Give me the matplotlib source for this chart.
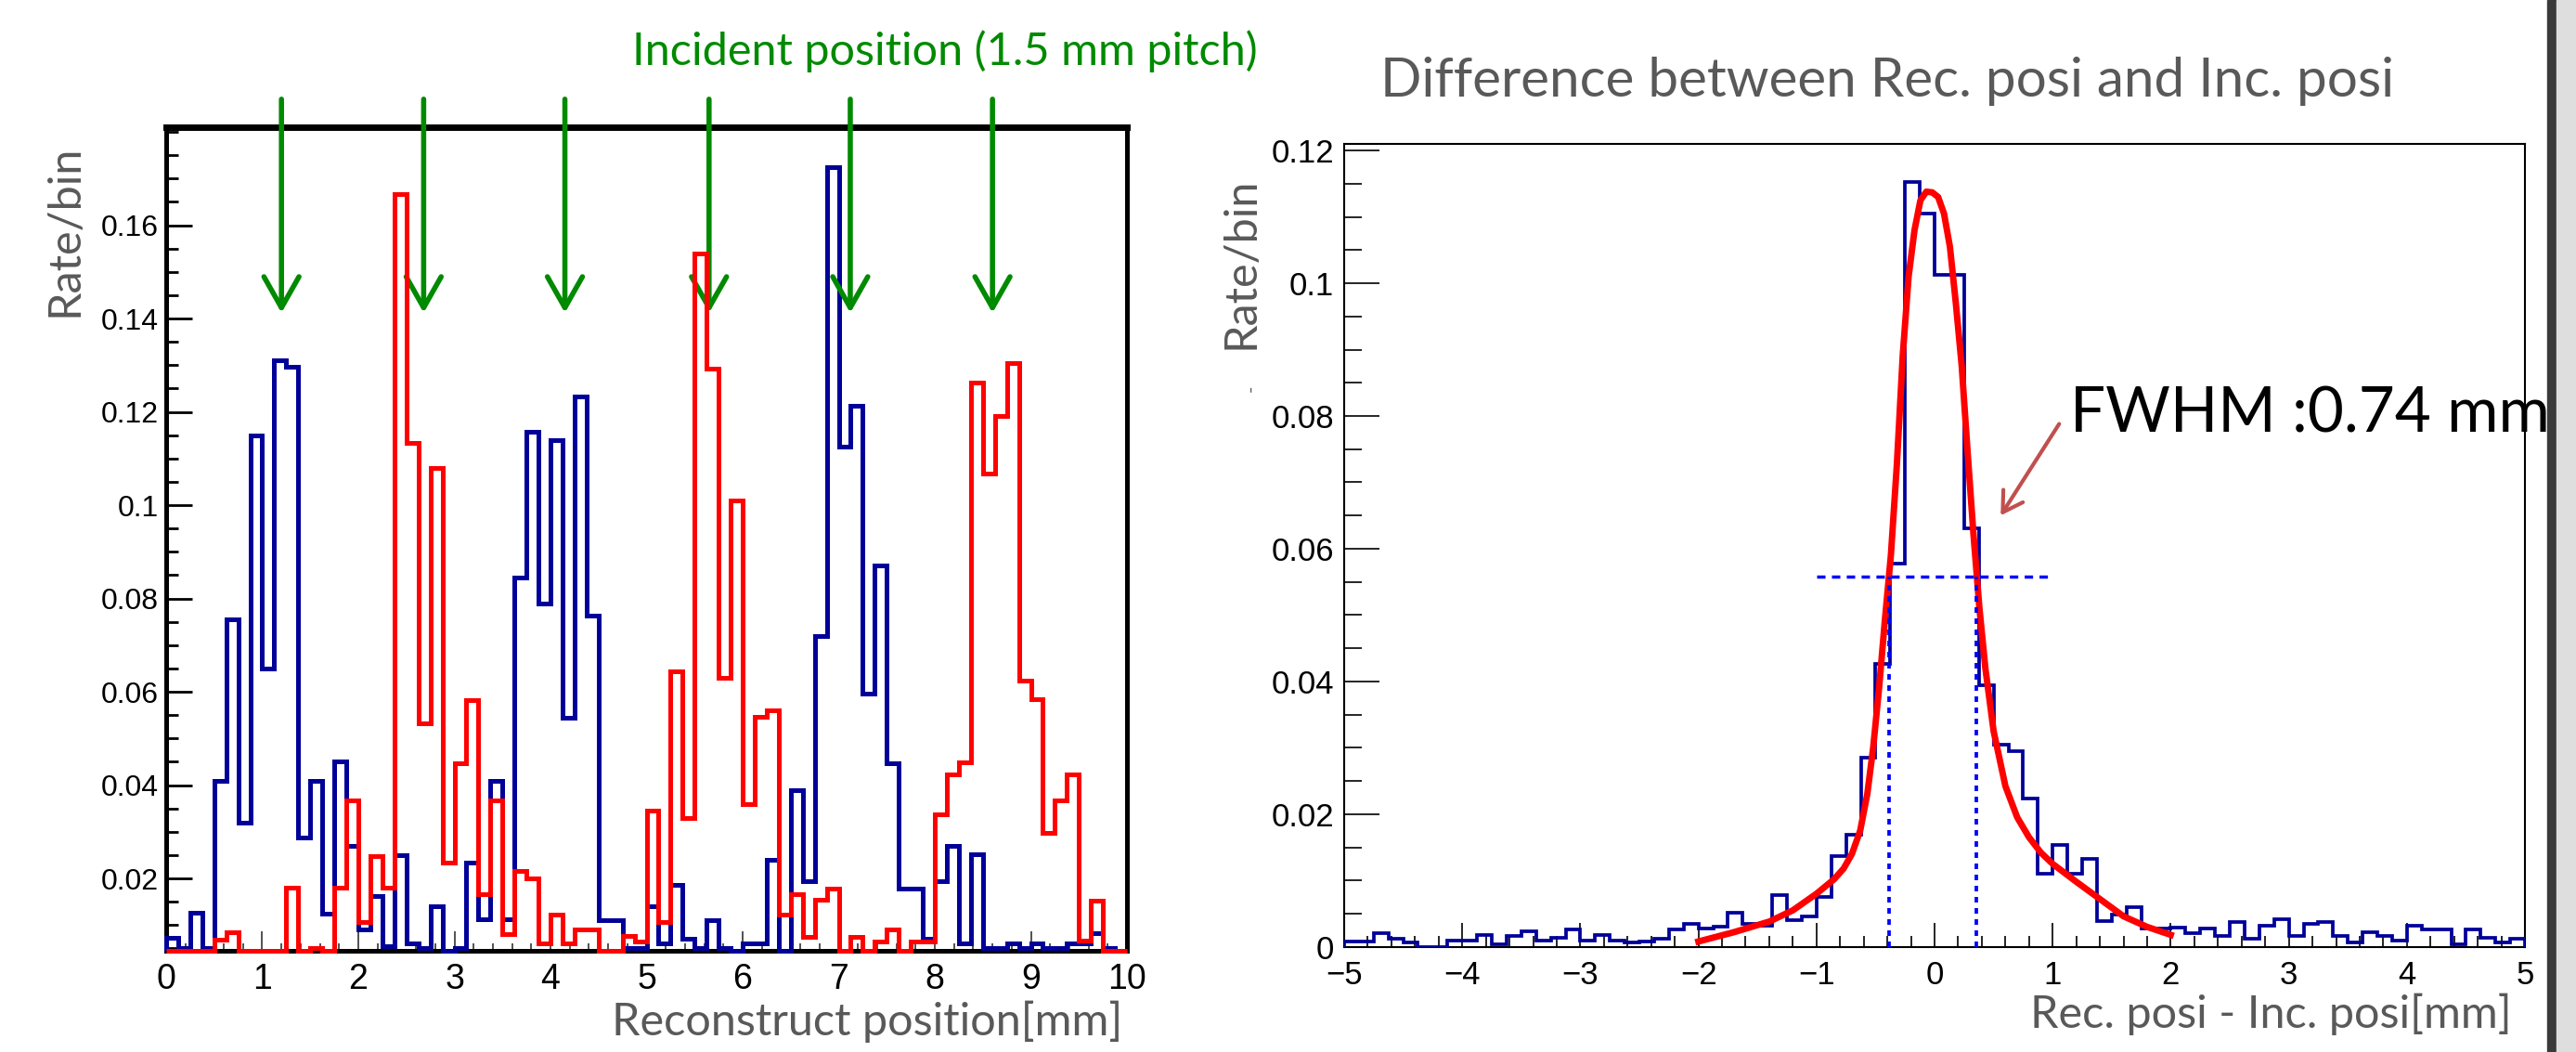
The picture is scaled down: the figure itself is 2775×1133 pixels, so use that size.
import numpy as np
import matplotlib
matplotlib.use("Agg")
import matplotlib.pyplot as plt
from matplotlib.patches import Rectangle
from matplotlib.ticker import MultipleLocator, FuncFormatter

# ---- left panel: reconstructed position, 80 bins of 0.125 mm ----
pos_edges = np.linspace(0, 10, 81)
blue_pos = [
    0.0073, 0.005, 0.0126, 0.005, 0.041, 0.0756, 0.032, 0.115,
    0.065, 0.131, 0.1296, 0.0287, 0.041, 0.0124, 0.045, 0.027,
    0.009, 0.0163, 0.0055, 0.025, 0.006, 0.005, 0.014, 0.0,
    0.005, 0.0235, 0.0112, 0.041, 0.0112, 0.0844, 0.1158, 0.079,
    0.114, 0.0544, 0.1233, 0.0764, 0.011, 0.011, 0.005, 0.005,
    0.014, 0.006, 0.0187, 0.007, 0.005, 0.011, 0.005, 0.0,
    0.006, 0.006, 0.0241, 0.0045, 0.039, 0.0195, 0.072, 0.1724,
    0.1125, 0.1213, 0.0596, 0.087, 0.0447, 0.0178, 0.0178, 0.0071,
    0.0195, 0.027, 0.006, 0.0252, 0.005, 0.005, 0.006, 0.005,
    0.006, 0.005, 0.005, 0.006, 0.006, 0.0083, 0.005, 0.0,
]
red_pos = [
    0.0, 0.0, 0.0, 0.0, 0.0068, 0.0084, 0.0, 0.0,
    0.0, 0.0, 0.018, 0.0, 0.005, 0.0, 0.018, 0.0367,
    0.0106, 0.0247, 0.018, 0.1666, 0.1133, 0.0532, 0.108, 0.0235,
    0.0447, 0.0582, 0.0167, 0.0367, 0.008, 0.0216, 0.0201, 0.006,
    0.0123, 0.006, 0.009, 0.009, 0.0, 0.0, 0.0077, 0.0065,
    0.0346, 0.0106, 0.0643, 0.033, 0.154, 0.1293, 0.063, 0.101,
    0.036, 0.0546, 0.0561, 0.0123, 0.0167, 0.0075, 0.0154, 0.0178,
    0.0, 0.0075, 0.0, 0.0065, 0.009, 0.0, 0.0065, 0.0065,
    0.0338, 0.0424, 0.0449, 0.1262, 0.1068, 0.1192, 0.1304, 0.0624,
    0.0584, 0.0298, 0.0367, 0.0424, 0.0067, 0.0153, 0.0, 0.0,
]
incident_x = [1.20, 2.68, 4.15, 5.65, 7.12, 8.60]

# ---- right panel: rec - inc residual, 80 bins of 0.125 mm ----
res_edges = np.linspace(-5, 5, 81)
res_counts = [
    0.0008, 0.0008, 0.0020, 0.0012, 0.0006, 0.0, 0.0, 0.0010,
    0.0010, 0.0018, 0.0004, 0.0016, 0.0024, 0.0010, 0.0014, 0.0026,
    0.0010, 0.0018, 0.0010, 0.0006, 0.0008, 0.0012, 0.0026, 0.0035,
    0.0028, 0.0031, 0.0051, 0.0035, 0.0032, 0.0078, 0.0040, 0.0046,
    0.0075, 0.0137, 0.0169, 0.0285, 0.0427, 0.0578, 0.1153, 0.1105,
    0.1012, 0.1012, 0.0631, 0.0394, 0.0305, 0.0295, 0.0224, 0.0110,
    0.0153, 0.0110, 0.0133, 0.0039, 0.0048, 0.0060, 0.0028, 0.0028,
    0.0029, 0.0020, 0.0028, 0.0016, 0.0037, 0.0012, 0.0032, 0.0042,
    0.0016, 0.0035, 0.0037, 0.0016, 0.0006, 0.0022, 0.0016, 0.0010,
    0.0032, 0.0026, 0.0026, 0.0004, 0.0026, 0.0014, 0.0006, 0.0012,
]
fit_x = [-2.0, -1.7, -1.4, -1.2, -1.0, -0.85, -0.77, -0.7, -0.63, -0.57,
         -0.52, -0.47, -0.42, -0.37, -0.32, -0.27, -0.22, -0.17, -0.12, -0.07,
         -0.02, 0.03, 0.08, 0.13, 0.18, 0.23, 0.28, 0.33, 0.38, 0.43,
         0.5, 0.6, 0.7, 0.8, 0.9, 1.0, 1.2, 1.4, 1.6, 1.8, 2.0]
fit_y = [0.0008, 0.0022, 0.0038, 0.0055, 0.0080, 0.0102, 0.0118, 0.0140, 0.0175, 0.0230,
         0.0300, 0.0390, 0.0494, 0.0590, 0.0725, 0.0890, 0.1010, 0.1080, 0.1125, 0.1138,
         0.1137, 0.1130, 0.1105, 0.1055, 0.0970, 0.0875, 0.0745, 0.0620, 0.0510, 0.0420,
         0.0325, 0.0242, 0.0195, 0.0165, 0.0142, 0.0125, 0.0098, 0.0072, 0.0046, 0.0030, 0.0018]
half_max = 0.0558
fwhm_lo, fwhm_hi = -0.385, 0.357
fwhm_text = "FWHM :0.74 mm"

NAVY = "#000099"
RED = "#ff0000"
GREEN = "#008a00"
GRAY = "#595959"
UI_FONT = ["Lato", "DejaVu Sans"]
plt.rcParams["font.family"] = ["Liberation Sans", "DejaVu Sans"]

YLO, YHI = 0.0045, 0.181


def fmt(v, pos):
    s = "%g" % round(v, 6)
    return s.replace("-", "\u2212")


fig = plt.figure(figsize=(27.75, 11.33), dpi=100)
ax1 = fig.add_axes([0.0645, 0.0962, 0.3730, 0.7829])
ax2 = fig.add_axes([0.5218, 0.1000, 0.4584, 0.7632])

# left histograms; empty bins sit on the frame like ROOT draws them
ax1.stairs(np.clip(blue_pos, YLO, None), pos_edges, baseline=YLO, color=NAVY,
           lw=3.6, zorder=3, clip_on=False)
ax1.stairs(np.clip(red_pos, YLO, None), pos_edges, baseline=YLO, color=RED,
           lw=3.6, zorder=3.1, clip_on=False)
ax1.set_xlim(0, 10)
ax1.set_ylim(YLO, YHI)
ax1.set_yticks(np.arange(0.02, 0.161, 0.02))
ax1.yaxis.set_minor_locator(MultipleLocator(0.005))
ax1.xaxis.set_major_locator(MultipleLocator(1))
ax1.xaxis.set_minor_locator(MultipleLocator(0.2))
ax1.xaxis.set_major_formatter(FuncFormatter(fmt))
ax1.yaxis.set_major_formatter(FuncFormatter(fmt))
ax1.tick_params(axis="y", which="major", direction="in", length=20, width=2, labelsize=23, pad=6)
ax1.tick_params(axis="y", which="minor", direction="in", length=9.5, width=2)
ax1.tick_params(axis="x", which="major", direction="in", length=15, width=1.2, labelsize=27,
                pad=9, color="#333333")
ax1.tick_params(axis="x", which="minor", direction="in", length=6, width=1.2, color="#333333")
for side, sp in ax1.spines.items():
    sp.set_linewidth(5 if side == "top" else 3.6)

for xi in incident_x:
    ax1.annotate("", xy=(xi, 0.7745), xycoords=("data", "axes fraction"),
                 xytext=(xi, 1.034), textcoords=("data", "axes fraction"),
                 arrowprops=dict(arrowstyle="->,head_length=0.6,head_width=0.34",
                                 color=GREEN, lw=4.0, shrinkA=0, shrinkB=0,
                                 mutation_scale=40),
                 annotation_clip=False)

# right histogram with fit and FWHM markers
ax2.stairs(res_counts, res_edges, baseline=0, color=NAVY, lw=2.7, zorder=3)
ax2.plot(fit_x, fit_y, color=RED, lw=5, zorder=4)
ax2.hlines(half_max, -1.0, 1.0, colors="#0000ff", linestyles=(0, (2.6, 2.0)), lw=2.5, zorder=5)
ax2.vlines([fwhm_lo, fwhm_hi], 0, half_max, colors="#0000ff", linestyles=(0, (1.6, 1.6)),
           lw=2.7, zorder=5)
ax2.set_xlim(-5, 5)
ax2.set_ylim(0, 0.121)
ax2.xaxis.set_major_locator(MultipleLocator(1))
ax2.xaxis.set_minor_locator(MultipleLocator(0.2))
ax2.yaxis.set_major_locator(MultipleLocator(0.02))
ax2.yaxis.set_minor_locator(MultipleLocator(0.005))
ax2.xaxis.set_major_formatter(FuncFormatter(fmt))
ax2.yaxis.set_major_formatter(FuncFormatter(fmt))
ax2.tick_params(axis="y", which="major", direction="in", length=27, width=1.2, labelsize=25, pad=8)
ax2.tick_params(axis="y", which="minor", direction="in", length=14, width=1.2)
ax2.tick_params(axis="x", which="major", direction="in", length=19, width=1.2, labelsize=25, pad=10)
ax2.tick_params(axis="x", which="minor", direction="in", length=8.5, width=1.2)
for sp in ax2.spines.values():
    sp.set_linewidth(1.5)

ax2.annotate("", xy=(0.56, 0.065), xytext=(1.055, 0.0788),
             arrowprops=dict(arrowstyle="->,head_length=0.5,head_width=0.3",
                             color="#c0504d", lw=3, shrinkA=0, shrinkB=0,
                             mutation_scale=30))
ax2.text(1.15, 0.0775, fwhm_text, ha="left", va="baseline", fontsize=48.5,
         color="black", family=UI_FONT, clip_on=False, zorder=6)

# slide texts
fig.text(0.3668, 0.9382, "Incident position (1.5 mm pitch)", ha="center", va="baseline",
         fontsize=35, color=GREEN, family=UI_FONT)
fig.text(0.7326, 0.9082, "Difference between Rec. posi and Inc. posi", ha="center",
         va="baseline", fontsize=42, color=GRAY, family=UI_FONT)
fig.text(0.4357, 0.0159, "Reconstruct position[mm]", ha="right", va="baseline",
         fontsize=35, color=GRAY, family=UI_FONT)
fig.text(0.9751, 0.0229, "Rec. posi - Inc. posi[mm]", ha="right", va="baseline",
         fontsize=35, color=GRAY, family=UI_FONT)
fig.text(0.0252, 0.781, "Rate/bin", rotation=90, ha="center", va="center",
         fontsize=35, color=GRAY, family=UI_FONT)
fig.text(0.4818, 0.750, "Rate/bin", rotation=90, ha="center", va="center",
         fontsize=35, color=GRAY, family=UI_FONT)
fig.text(0.4854, 0.631, "-", rotation=90, ha="center", va="center",
         fontsize=14, color=GRAY, family=UI_FONT)

# slide edge on the right, kept behind the axes
fig.patches.append(Rectangle((2744 / 2775, 0), 10 / 2775, 1, transform=fig.transFigure,
                             color="#3a3a3a", zorder=-1))
fig.patches.append(Rectangle((2754 / 2775, 0), 21 / 2775, 1, transform=fig.transFigure,
                             color="#dedede", zorder=-1))

fig.savefig("out.png", dpi=100)
plt.close(fig)
